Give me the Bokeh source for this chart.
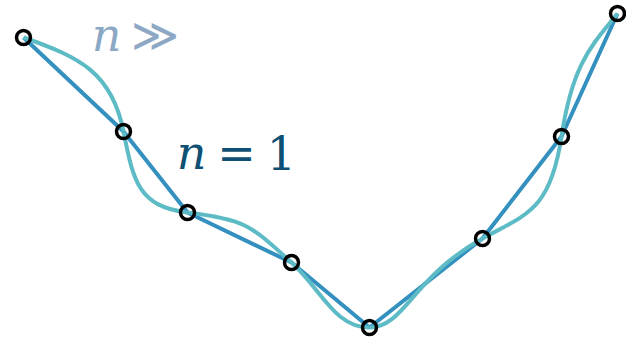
import numpy as np
from bokeh.plotting import figure
from bokeh.models import Range1d
from bokeh.core.properties import value
from bokeh.embed import file_html
from bokeh.resources import INLINE

# sample points (n = 1 polyline)
xs = [0.00, 1.00, 1.64, 2.68, 3.46, 4.59, 5.38, 5.94]
ys = [3.04, 2.10, 1.29, 0.79, 0.14, 1.03, 2.05, 3.28]

# tangent directions of the smooth (n >>) curve at each point
tan_dx = [1.0, 0.2, 1.0, 1.0, 1.0, 1.0, 0.15, 1.0]
tan_dy = [-0.35, -1.0, -0.12, -0.9, 0.0, 0.55, 1.0, 1.25]

# handle lengths of each segment (leaving start, arriving end)
h_out = [0.60, 0.50, 0.60, 0.40, 0.35, 0.50, 0.75]
h_in = [0.60, 0.50, 0.55, 0.35, 0.80, 0.75, 0.40]

labels_light = ["n", "≫"]
labels_dark = ["n", "=", "1"]

BLUE = "#3390bf"
CYAN = "#5cbbc5"
DARK = "#0e4f73"
LIGHT = "#8ca8c4"

p = figure(width=626, height=341, output_backend="svg", toolbar_location=None,
           x_range=Range1d(-0.23, 6.03), y_range=Range1d(0.0, 3.41),
           min_border=0)
p.axis.visible = False
p.grid.visible = False
p.outline_line_color = None
p.background_fill_color = "white"
p.border_fill_color = "white"

x = np.array(xs); y = np.array(ys)
tx = np.array(tan_dx); ty = np.array(tan_dy)
nrm = np.hypot(tx, ty); tx = tx / nrm; ty = ty / nrm
ho = np.array(h_out); hi = np.array(h_in)

p.line(xs, ys, line_color=BLUE, line_width=4)

p.bezier(x0=x[:-1], y0=y[:-1], x1=x[1:], y1=y[1:],
         cx0=x[:-1] + ho * tx[:-1], cy0=y[:-1] + ho * ty[:-1],
         cx1=x[1:] - hi * tx[1:], cy1=y[1:] - hi * ty[1:],
         line_color=CYAN, line_width=4)

p.scatter(xs, ys, size=14, fill_color=None, line_color="black", line_width=3.5)

font = value("DejaVu Serif")
# light label "n >>"
p.text(x=[0.83], y=[3.07], text=[labels_light[0]], text_font=font,
       text_font_style="italic", text_font_size="46px", text_color=LIGHT,
       text_align="center", text_baseline="alphabetic")
p.text(x=[1.31], y=[3.07], text=[labels_light[1]], text_font=font,
       text_font_size="46px", text_color=LIGHT,
       text_align="center", text_baseline="alphabetic")
# dark label "n = 1"
p.text(x=[1.68], y=[1.89], text=[labels_dark[0]], text_font=font,
       text_font_style="italic", text_font_size="46px", text_color=DARK,
       text_align="center", text_baseline="alphabetic")
p.text(x=[2.13], y=[1.89], text=[labels_dark[1]], text_font=font,
       text_font_size="46px", text_color=DARK,
       text_align="center", text_baseline="alphabetic")
p.text(x=[2.58], y=[1.89], text=[labels_dark[2]], text_font=font,
       text_font_size="46px", text_color=DARK,
       text_align="center", text_baseline="alphabetic")

open("out.html", "w").write(file_html(p, INLINE))
